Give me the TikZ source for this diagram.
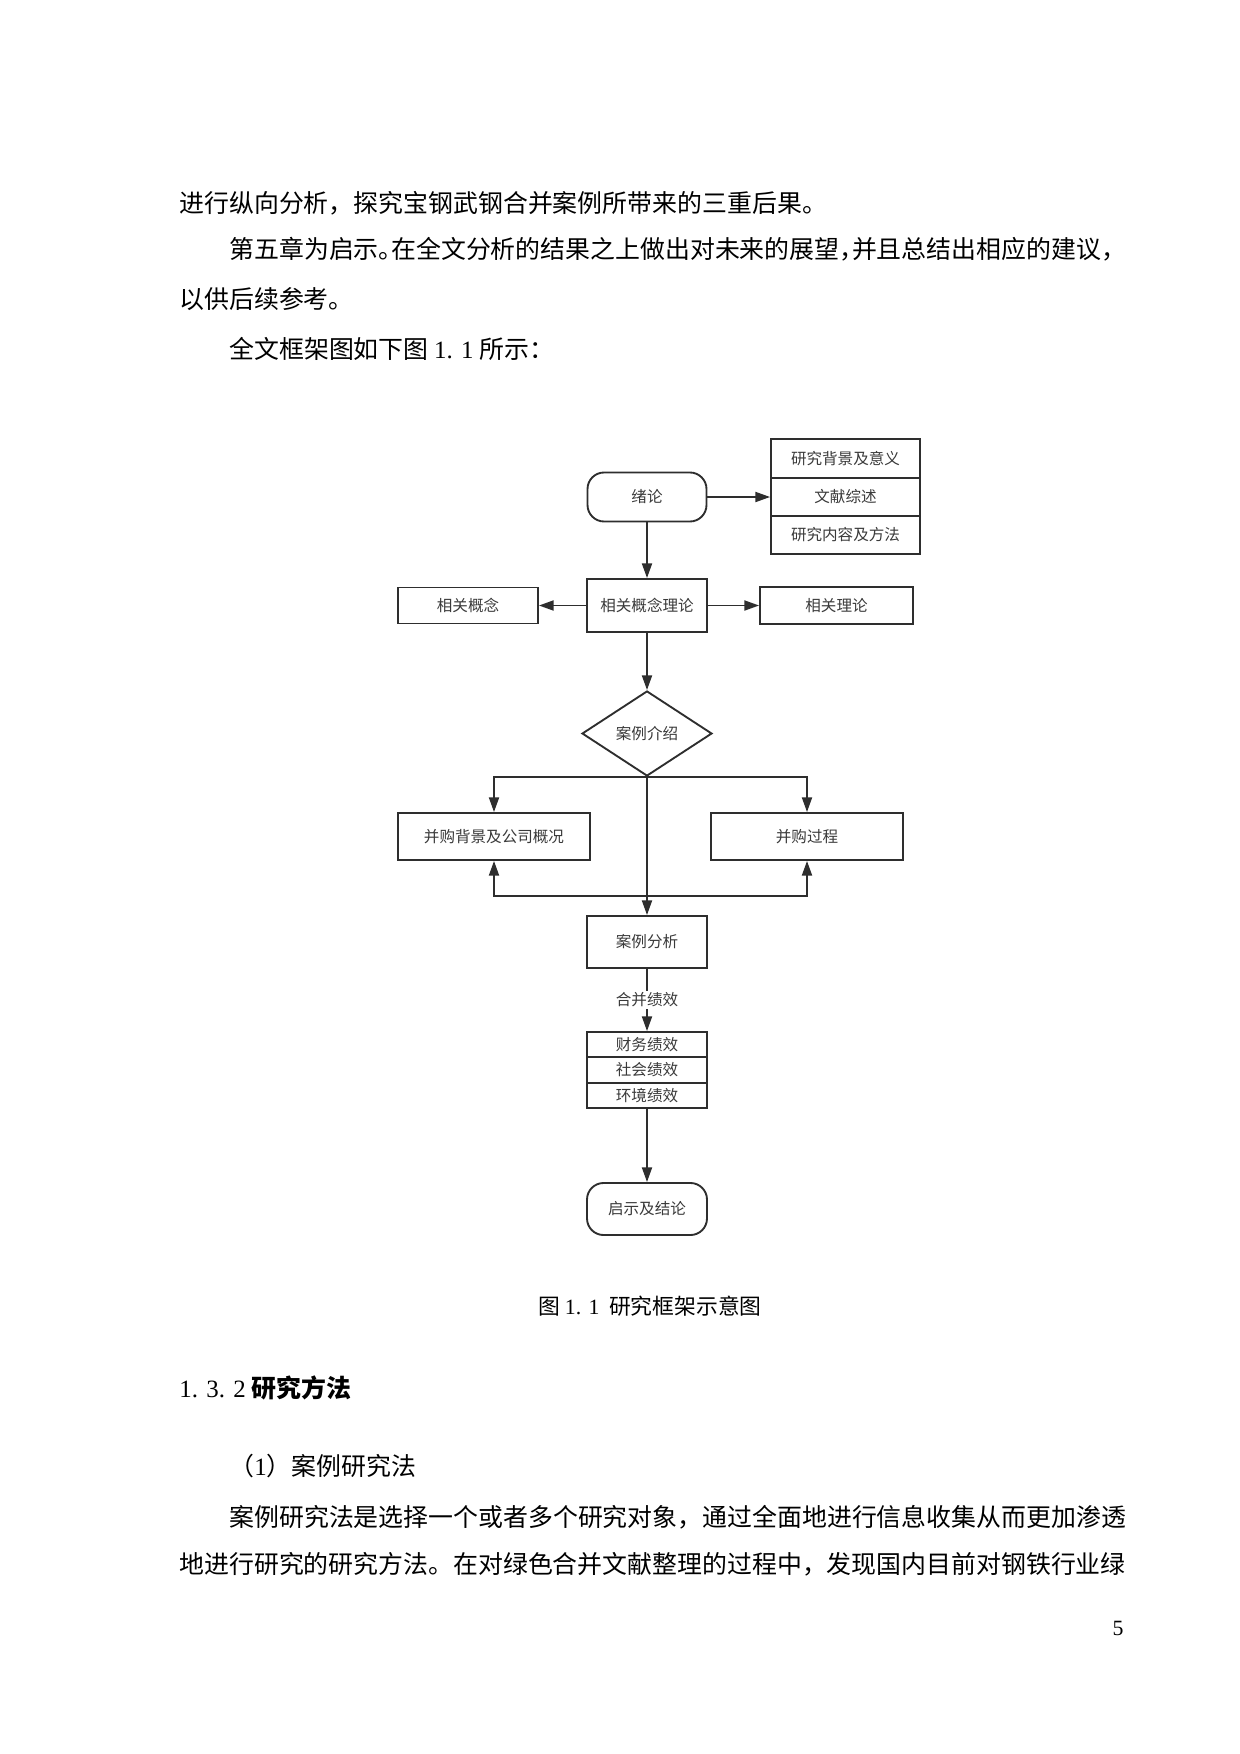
\documentclass[tikz,border=0pt]{standalone}
\usepackage{fontspec}
\setmainfont{Liberation Serif}
\newfontfamily\cjk{Noto Sans CJK SC}
\usetikzlibrary{arrows.meta,shapes.geometric}
\definecolor{linegray}{HTML}{2E2E2E}
\definecolor{textgray}{HTML}{3A3A3A}
\newcommand{\halfpunct}[1]{\makebox[0.5em][l]{#1}}
\newcommand{\bodyfont}{\cjk\fontsize{12pt}{14pt}\selectfont}
\newcommand{\diagfont}{\cjk\fontsize{7.5pt}{9pt}\selectfont}
\begin{document}
\begin{tikzpicture}[x=0.169355mm, y=-0.169355mm,
  box/.style={rectangle, draw=linegray, line width=0.9pt, font=\diagfont, text=textgray, inner sep=0pt},
  roundbox/.style={box, rounded corners=2.8mm},
  bodyline/.style={anchor=west, inner sep=0pt, font=\bodyfont},
  arr/.style={-{Triangle[length=2.5mm,width=1.7mm]}, line width=0.9pt, draw=linegray}]
\fill[white] (0,0) rectangle (1240,1754);
\useasboundingbox (0,0) rectangle (1240,1754);
% body text above the figure
\node[bodyline] (L1) at (179, 203) {进行纵向分析，探究宝钢武钢合并案例所带来的三重后果。};
\node[bodyline] (L2) at (229, 249) {第五章为启示\halfpunct{。}在全文分析的结果之上做出对未来的展望\halfpunct{，}并且总结出相应的建议，};
\node[bodyline] (L3) at (179, 299) {以供后续参考。};
\node[bodyline] (L4) at (229, 349) {全文框架图如下图 \textrm{1. 1} 所示：};
% flow chart
\node[roundbox, minimum width=20.15mm, minimum height=8.3mm] (xulun) at (647, 497) {绪论};
\node[box, minimum width=25.23mm, minimum height=6.6mm] (stA) at (845.5, 458.5) {研究背景及意义};
\node[box, minimum width=25.23mm, minimum height=6.44mm] (stB) at (845.5, 497) {文献综述};
\node[box, minimum width=25.23mm, minimum height=6.44mm] (stC) at (845.5, 535) {研究内容及方法};
\node[box, minimum width=20.32mm, minimum height=8.98mm] (theory) at (647, 605.5) {相关概念理论};
\node[box, minimum width=23.71mm, minimum height=6.1mm] (concept) at (468, 605.5) {相关概念};
\node[box, minimum width=25.91mm, minimum height=6.27mm] (theorybox) at (836.5, 605.5) {相关理论};
\node[box, diamond, minimum width=22mm, minimum height=14.4mm] (intro) at (647, 733.5) {案例介绍};
\node[box, minimum width=32.52mm, minimum height=7.96mm] (bgbox) at (494, 836.5) {并购背景及公司概况};
\node[box, minimum width=32.52mm, minimum height=7.96mm] (procbox) at (807, 836.5) {并购过程};
\coordinate (loop) at (647, 896);
\node[box, minimum width=20.32mm, minimum height=8.81mm] (analysis) at (647, 942) {案例分析};
\node[box, minimum width=20.32mm, minimum height=4.23mm] (pfA) at (647, 1044.5) {财务绩效};
\node[box, minimum width=20.32mm, minimum height=4.4mm] (pfB) at (647, 1070) {社会绩效};
\node[box, minimum width=20.32mm, minimum height=4.23mm] (pfC) at (647, 1095.5) {环境绩效};
\node[roundbox, minimum width=20.32mm, minimum height=8.81mm] (ending) at (647, 1209) {启示及结论};
\draw[arr] (xulun) -- (stB);
\draw[arr] (xulun) -- (theory);
\draw[arr] (theory) -- (concept);
\draw[arr] (theory) -- (theorybox);
\draw[arr] (theory) -- (intro);
\draw[arr] (intro.south) -| (bgbox.north);
\draw[arr] (intro.south) -| (procbox.north);
\draw[arr] (intro.south) -- (analysis.north);
\draw[arr] (loop) -| (bgbox.south);
\draw[arr] (loop) -| (procbox.south);
\draw[arr] (analysis) -- node[midway, fill=white, inner sep=1pt, font=\diagfont, text=textgray] {合并绩效} (pfA);
\draw[arr] (pfC) -- (ending);
% caption and text below
\node[font=\cjk\fontsize{10.5pt}{12pt}\selectfont, inner sep=0pt] (caption) at (650, 1306) {图 \textrm{1. 1}\ \ 研究框架示意图};
\node[bodyline] (H1) at (179, 1388) {\textrm{1. 3. 2} {\bfseries 研究方法}};
\node[bodyline] (P1) at (229, 1466) {（\textrm{1}）案例研究法};
\node[bodyline] (P2) at (229, 1517) {案例研究法是选择一个或者多个研究对象，通过全面地进行信息收集从而更加渗透};
\node[bodyline] (P3) at (179, 1564) {地进行研究的研究方法。在对绿色合并文献整理的过程中，发现国内目前对钢铁行业绿};
\node[font=\fontsize{10.5pt}{12pt}\selectfont, inner sep=0pt] (pageno) at (1118, 1628) {5};
\end{tikzpicture}
\end{document}
